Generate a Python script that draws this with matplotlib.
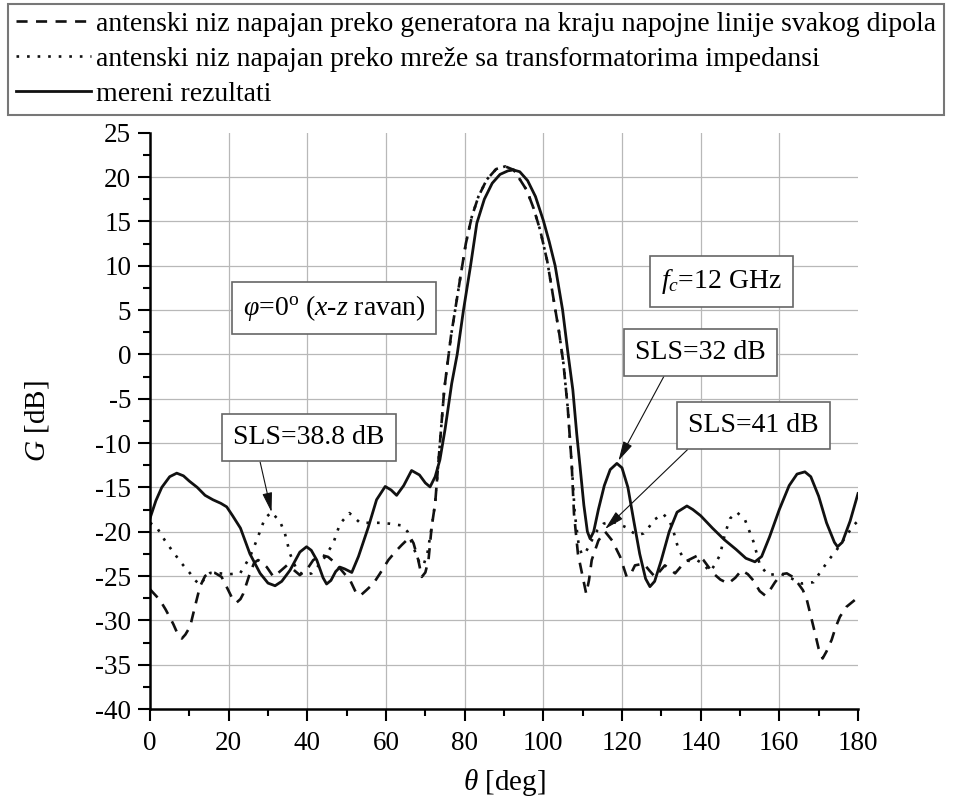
import matplotlib
matplotlib.use("Agg")
import matplotlib.pyplot as plt
from matplotlib.ticker import MultipleLocator

# --- data ----------------------------------------------------------------
labels = [
    "antenski niz napajan preko generatora na kraju napojne linije svakog dipola",
    "antenski niz napajan preko mreže sa transformatorima impedansi",
    "mereni rezultati",
]

# dashed: generator at the end of each dipole feed line
theta_gen = [0, 2.5, 4, 5.9, 7, 8.1, 9, 10.2, 11.4, 12.7, 14, 15.5, 16.5, 18.2,
             19.9, 21, 22, 23, 23.7, 25.4, 26.5, 27.5, 28.5, 29.7, 31.4, 33,
             34.8, 36.5, 38.1, 40, 41.5, 43.7, 45.3, 47, 48.3, 50.9, 52.5, 53.5,
             55, 56.8, 58.5, 60.6, 62.5, 64, 66.1, 67, 68.2, 69.1, 70, 70.8,
             71.6, 72.5, 73.3, 74.8, 76.5, 78.8, 80.3, 81.8, 83.5, 85.6, 88,
             90.3, 92.5, 95.8, 97.5, 99.2, 101, 102.5, 104, 105.1, 106.2, 107.2,
             107.8, 108.8, 110.2, 110.9, 111.6, 112.3, 114, 115.7, 117.5, 119.5,
             121.2, 122.2, 123.3, 125.5, 127, 128.4, 130.9, 133.5, 136, 139.4,
             140.7, 143.2, 145, 147, 148.8, 150.4, 152, 153.4, 155, 156.4, 157.6,
             158.9, 160.5, 161.9, 163.4, 164.8, 166, 167, 168, 169.1, 170, 171,
             172, 173.3, 174.3, 175.4, 177, 179.2, 180]
g_gen = [-26.5, -27.7, -28.8, -30.4, -31.5, -32.05, -31.6, -30.7, -28.5, -26.2,
         -25.0, -24.6, -24.65, -25.1, -26.6, -27.6, -28.0, -27.6, -27.0, -24.7,
         -23.5, -23.2, -23.5, -24.0, -25.1, -24.5, -23.8, -24.3, -24.9, -24.2,
         -23.2, -22.65, -22.85, -23.5, -24.15, -25.5, -27.0, -27.2, -26.6,
         -25.85, -24.7, -23.2, -22.2, -21.5, -20.6, -21.3, -23.2, -25.1, -24.6,
         -23.2, -19.5, -16.8, -12.3, -4.0, 2.0, 8.4, 12.5, 15.5, 17.8, 19.7,
         20.9, 21.2, 20.8, 18.5, 16.5, 14.0, 10.5, 6.5, 2.5, -1.0, -6.0, -12.3,
         -18.0, -22.5, -25.5, -27.0, -25.5, -23.2, -21.0, -20.0, -21.0, -22.8,
         -25.1, -24.8, -23.8, -23.6, -24.4, -25.1, -23.8, -24.7, -23.4, -22.65,
         -23.2, -24.7, -25.4, -25.85, -25.2, -24.35, -24.8, -25.5, -26.7, -27.2,
         -26.6, -25.7, -24.8, -24.7, -25.1, -25.85, -26.6, -27.7, -29.5, -31.5,
         -33.2, -34.3, -33.5, -32.2, -30.8, -29.6, -28.5, -27.7, -27.5]

# dotted: feed network with impedance transformers
theta_net = [0, 1.7, 3.8, 5.9, 8.1, 10.2, 11.5, 12.8, 14, 15.3, 17.8, 20, 22.9,
             24, 25.4, 27.1, 29.2, 30.9, 33.1, 34.3, 35.6, 37.3, 39, 41.1, 43.7,
             46.6, 48.3, 50.7, 53.4, 56, 58.5, 61, 64, 65.5, 67, 68.5, 69.5,
             70.5, 71.6, 72.5, 73.3, 74.8, 76.5, 78.8, 80.3, 81.8, 83.5, 85.6,
             88, 90.3, 92.5, 95.8, 97.5, 99.2, 101, 102.5, 104, 105.1, 106.2,
             107.2, 108, 109, 109.8, 110.8, 112.3, 113.8, 115.3, 117, 118.5, 121,
             123.7, 125.5, 127, 128, 130.5, 132.2, 133.3, 134.3, 135.6, 137, 139,
             140.5, 142.4, 143.5, 144.9, 146.2, 147.5, 149.2, 151.3, 153.4,
             155.1, 157.2, 160.2, 163.2, 165.7, 168.7, 170.8, 172.9, 175, 177,
             178.8, 180]
g_net = [-19.0, -19.5, -21.0, -22.3, -23.6, -24.7, -25.5, -26.0, -25.2, -24.65,
         -24.7, -24.8, -24.7, -23.9, -22.85, -21.0, -18.5, -17.8, -18.9, -20.2,
         -22.5, -24.3, -24.9, -24.7, -23.4, -21.3, -19.1, -17.9, -19.0, -19.0,
         -19.0, -19.1, -19.3, -20.0, -21.8, -23.5, -23.8, -22.5, -19.5, -16.8,
         -12.3, -4.0, 2.0, 8.4, 12.5, 15.5, 17.8, 19.7, 20.9, 21.2, 20.8, 18.5,
         16.5, 14.0, 10.5, 6.5, 2.5, -1.0, -6.0, -12.3, -18.0, -21.5, -22.6,
         -22.3, -21.0, -19.8, -19.1, -18.9, -19.0, -19.5, -20.4, -20.2, -19.4,
         -18.7, -18.0, -18.9, -20.3, -21.9, -23.0, -23.3, -23.2, -23.6, -24.5,
         -23.8, -22.65, -20.2, -18.5, -17.8, -18.7, -21.1, -23.8, -24.9, -24.7,
         -25.3, -25.85, -25.7, -24.3, -23.0, -21.8, -20.5, -19.3, -18.8]

# solid: measured
theta_meas = [0, 1.5, 3, 5, 6.8, 8.5, 10, 12, 14, 16, 18, 19.5, 21, 23, 25.4,
              28, 30, 31.8, 33.5, 35.6, 38.1, 39.8, 41, 42.4, 44, 44.9, 46,
              47.2, 48.3, 49.5, 51.3, 53, 55.5, 57.6, 59.8, 61.3, 62.7, 64.5,
              66.5, 68.5, 70, 71.2, 72.5, 73.7, 75, 76.7, 78.1, 79.7, 81.5, 83.1,
              85, 87, 89, 91, 92.4, 94, 96, 98, 100, 101.5, 103, 104.9, 106.3,
              107.5, 108.5, 109.3, 110.3, 111.2, 111.9, 112.8, 114, 115.5, 117,
              118.7, 120, 121.5, 123, 124.5, 126, 127.1, 128.3, 130, 132, 134,
              136.5, 138, 140, 143, 146, 149, 151.5, 153.8, 155.5, 157.5, 160,
              162.5, 164.5, 166.5, 168, 170, 172, 174, 174.8, 176, 178, 180]
g_meas = [-18.5, -16.5, -15.0, -13.8, -13.4, -13.7, -14.3, -15.0, -15.9, -16.4,
          -16.8, -17.2, -18.2, -19.6, -22.5, -24.7, -25.8, -26.1, -25.6, -24.35,
          -22.3, -21.7, -22.1, -23.2, -25.2, -25.9, -25.5, -24.5, -24.0, -24.2,
          -24.6, -22.8, -19.5, -16.4, -14.9, -15.3, -15.9, -14.8, -13.1, -13.6,
          -14.5, -14.95, -13.8, -11.9, -8.5, -3.3, 0.0, 5.0, 10.0, 14.8, 17.5,
          19.3, 20.3, 20.7, 20.8, 20.6, 19.6, 17.8, 15.1, 12.7, 10.0, 5.0, 0.0,
          -4.0, -9.0, -12.5, -17.0, -20.0, -20.8, -20.0, -17.5, -14.8, -13.0,
          -12.3, -12.8, -15.0, -18.8, -22.5, -25.3, -26.2, -25.6, -23.2, -20.0,
          -17.8, -17.1, -17.5, -18.2, -19.6, -20.9, -22.0, -23.0, -23.4, -22.8,
          -20.6, -17.5, -14.8, -13.5, -13.25, -13.8, -16.0, -19.0, -21.2, -21.7,
          -21.2, -18.8, -15.7]

plt.rcParams.update({
    "font.family": "Liberation Serif",
    "mathtext.fontset": "custom",
    "mathtext.rm": "Liberation Serif",
    "mathtext.it": "Liberation Serif:italic",
    "axes.unicode_minus": False,
})

fig = plt.figure(figsize=(9.58, 8.05), dpi=100)
ax = fig.add_axes([150 / 958, 96 / 805, 708 / 958, 576.3 / 805])

# interior grid only (no line on top / right edge)
for yv in range(-35, 25, 5):
    ax.axhline(yv, color="#b8b8b8", lw=0.9, zorder=0)
for xv in range(20, 180, 20):
    ax.axvline(xv, color="#b8b8b8", lw=0.9, zorder=0)

ax.plot(theta_gen, g_gen, color="#111111", lw=1.9, ls=(0, (4.2, 3.2)), label=labels[0])
ax.plot(theta_net, g_net, color="#111111", lw=1.9, ls=(0, (1, 3)), label=labels[1])
ax.plot(theta_meas, g_meas, color="#111111", lw=2.0, label=labels[2])

ax.set_xlim(0, 180)
ax.set_ylim(-40, 25)
ax.xaxis.set_major_locator(MultipleLocator(20))
ax.xaxis.set_minor_locator(MultipleLocator(10))
ax.yaxis.set_major_locator(MultipleLocator(5))
ax.yaxis.set_minor_locator(MultipleLocator(2.5))
for s in ("top", "right"):
    ax.spines[s].set_visible(False)
for s in ("left", "bottom"):
    ax.spines[s].set_linewidth(1.8)
ax.tick_params(which="major", direction="out", length=8.5, width=1.5, labelsize=19.5)
ax.tick_params(which="minor", direction="out", length=5, width=1.5)
ax.tick_params(axis="y", pad=5)
ax.tick_params(axis="x", pad=7)

ax.set_ylabel(r"$G$ [dB]", fontsize=21)
ax.yaxis.set_label_coords(-0.14, 0.5)
ax.set_xlabel(r"$\theta$ [deg]", fontsize=21)
ax.xaxis.set_label_coords(0.5, -0.1)

box = dict(boxstyle="square,pad=0.4", fc="white", ec="#666666", lw=1.2)
ax.text(46.8, 5.2, r"$\varphi$=0$^{\mathrm{o}}$ ($x$-$z$ ravan)",
        ha="center", va="center", fontsize=20, bbox=box)
ax.text(145.4, 8.2, r"$f_c$=12 GHz", ha="center", va="center", fontsize=20, bbox=box)


def arrow(rx):
    return dict(arrowstyle="-|>,head_length=0.6,head_width=0.15", color="#111111",
                lw=0.8, shrinkA=0, shrinkB=0, relpos=(rx, 0), mutation_scale=20)


ax.annotate("SLS=32 dB", xy=(119.1, -12.0), xytext=(139.9, 0.25), ha="center",
            va="center", fontsize=20, bbox=box, arrowprops=arrow(0.27))
ax.annotate("SLS=41 dB", xy=(115.7, -19.7), xytext=(153.4, -8.0), ha="center",
            va="center", fontsize=20, bbox=box, arrowprops=arrow(0.09))
ax.annotate("SLS=38.8 dB", xy=(30.9, -17.8), xytext=(40.4, -9.4), ha="center",
            va="center", fontsize=20, bbox=box, arrowprops=arrow(0.16))

handles, labs = ax.get_legend_handles_labels()
leg = fig.legend(handles, labs, loc="upper left", bbox_to_anchor=(8 / 958, 1 - 4 / 805),
                 bbox_transform=fig.transFigure, fancybox=False, edgecolor="#777777",
                 framealpha=1, fontsize=20, handlelength=2.7, handletextpad=0.18,
                 labelspacing=0.34, borderpad=0.28, borderaxespad=0)
leg.get_frame().set_linewidth(1.5)

fig.savefig("out.png", dpi=100)
